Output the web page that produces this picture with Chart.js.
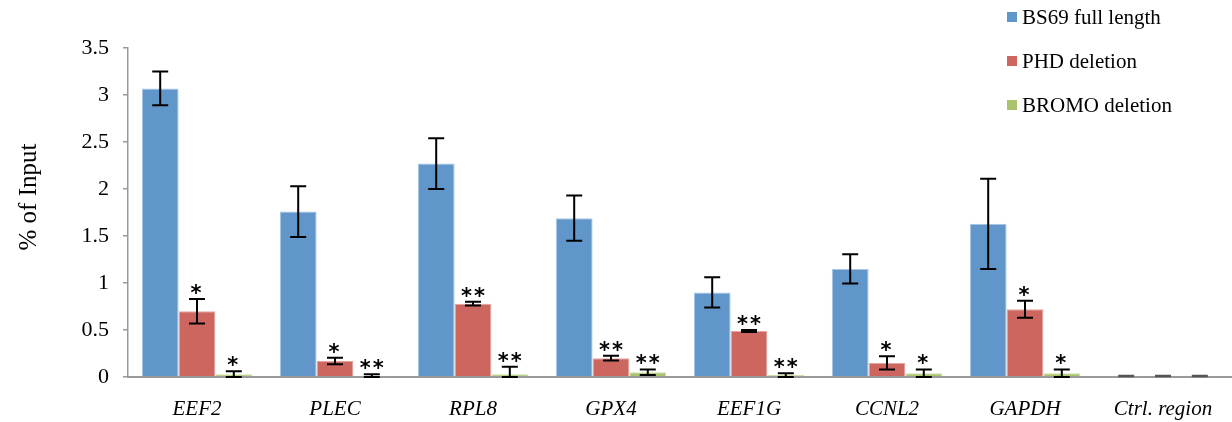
<!DOCTYPE html>
<html>
<head>
<meta charset="utf-8">
<script src="https://cdn.jsdelivr.net/npm/chart.js@4/dist/chart.umd.min.js"></script>
<style>
  html, body { margin: 0; padding: 0; background: #fff; }
  #wrap { width: 1232px; height: 422px; }
</style>
</head>
<body>
<div id="wrap"><canvas id="chipchart"></canvas></div>
<script>
const genes = ["EEF2", "PLEC", "RPL8", "GPX4", "EEF1G", "CCNL2", "GAPDH", "Ctrl. region"];
const fullLength = [3.07, 1.76, 2.27, 1.69, 0.90, 1.15, 1.63, 0.01];
const phdDel = [0.70, 0.17, 0.78, 0.20, 0.49, 0.15, 0.72, 0.01];
const bromoDel = [0.03, 0.01, 0.03, 0.05, 0.02, 0.04, 0.04, 0.01];
const fullLengthErr = [0.18, 0.27, 0.27, 0.24, 0.16, 0.155, 0.48, 0.003];
const phdDelErr = [0.13, 0.035, 0.02, 0.025, 0.01, 0.07, 0.09, 0.003];
const bromoDelErr = [0.03, 0.02, 0.08, 0.03, 0.02, 0.04, 0.04, 0.003];
const phdStars = ["*", "*", "**", "**", "**", "*", "*", ""];
const bromoStars = ["*", "**", "**", "**", "**", "*", "*", ""];

const serif = "'Liberation Serif', 'Times New Roman', serif";

// error bars + significance stars
const errorBars = {
  id: "errorBars",
  afterDatasetsDraw(chart) {
    const ctx = chart.ctx;
    const y = chart.scales.y;
    chart.data.datasets.forEach((ds, i) => {
      const meta = chart.getDatasetMeta(i);
      meta.data.forEach((bar, j) => {
        const v = ds.data[j], e = ds.err[j];
        const top = y.getPixelForValue(v + e);
        const bot = y.getPixelForValue(Math.max(0, v - e));
        ctx.save();
        ctx.strokeStyle = e < 0.005 ? "#555" : "#000";
        ctx.lineWidth = 2;
        ctx.beginPath();
        ctx.moveTo(bar.x, top); ctx.lineTo(bar.x, bot);
        ctx.moveTo(bar.x - 8, top); ctx.lineTo(bar.x + 8, top);
        ctx.moveTo(bar.x - 8, bot); ctx.lineTo(bar.x + 8, bot);
        ctx.stroke();
        const s = ds.stars ? ds.stars[j] : "";
        if (s) {
          ctx.fillStyle = "#000";
          ctx.font = "bold 21px 'DejaVu Sans', sans-serif";
          ctx.letterSpacing = "2px";
          ctx.textAlign = "center";
          ctx.textBaseline = "alphabetic";
          ctx.fillText(s, bar.x + (s.length > 1 ? 1 : 0), top + 1);
        }
        ctx.restore();
      });
    });
  }
};

// legend in the top right corner + y axis title
const cornerLegend = {
  id: "cornerLegend",
  afterDraw(chart) {
    const ctx = chart.ctx;
    chart.data.datasets.forEach((ds, i) => {
      const cy = 18 + i * 44;
      ctx.save();
      ctx.fillStyle = ds.backgroundColor;
      ctx.fillRect(1007, cy - 6, 10, 10);
      ctx.fillStyle = "#000";
      ctx.font = "21px " + serif;
      ctx.textAlign = "left";
      ctx.textBaseline = "middle";
      ctx.fillText(ds.label, 1022, cy);
      ctx.restore();
    });
    ctx.save();
    ctx.translate(29, 197);
    ctx.rotate(-Math.PI / 2);
    ctx.fillStyle = "#000";
    ctx.font = "25px " + serif;
    ctx.textAlign = "center";
    ctx.textBaseline = "middle";
    ctx.fillText("% of Input", 0, 0);
    ctx.restore();
  }
};

const ctx1 = document.getElementById("chipchart").getContext("2d");
const chipchart = new Chart(ctx1, {
  type: "bar",
  data: {
    labels: genes,
    datasets: [
      { label: "BS69 full length", data: fullLength, err: fullLengthErr, backgroundColor: "#6096CA", borderColor: "#a9c6e4", borderWidth: 1 },
      { label: "PHD deletion", data: phdDel, err: phdDelErr, stars: phdStars, backgroundColor: "#CD665F", borderColor: "#e3a5a0", borderWidth: 1 },
      { label: "BROMO deletion", data: bromoDel, err: bromoDelErr, stars: bromoStars, backgroundColor: "#A9C46D", borderColor: "#cfe0aa", borderWidth: 1 },
    ],
  },
  options: {
    responsive: true,
    maintainAspectRatio: false,
    animation: false,
    layout: { padding: { top: 48, right: 0, left: 0, bottom: 0 } },
    categoryPercentage: 0.8,
    barPercentage: 1.0,
    plugins: {
      legend: { display: false },
      tooltip: { enabled: false },
    },
    scales: {
      x: {
        grid: { display: false },
        border: { display: true, color: "#999", width: 2 },
        ticks: {
          color: "#000",
          padding: 12,
          font: { family: serif, size: 21, style: "italic" },
        },
        afterFit(scale) { scale.height = 45; },
      },
      y: {
        min: 0,
        max: 3.5,
        ticks: {
          stepSize: 0.5,
          color: "#000",
          padding: 14,
          font: { family: serif, size: 22 },
          callback: (v) => String(v),
        },
        grid: { drawOnChartArea: false, drawTicks: true, tickLength: 5, color: "#999", lineWidth: 1.5 },
        border: { display: true, color: "#999", width: 1.5 },
        afterFit(scale) { scale.width = 128; },
      },
    },
  },
  plugins: [errorBars, cornerLegend],
});
</script>
</body>
</html>
